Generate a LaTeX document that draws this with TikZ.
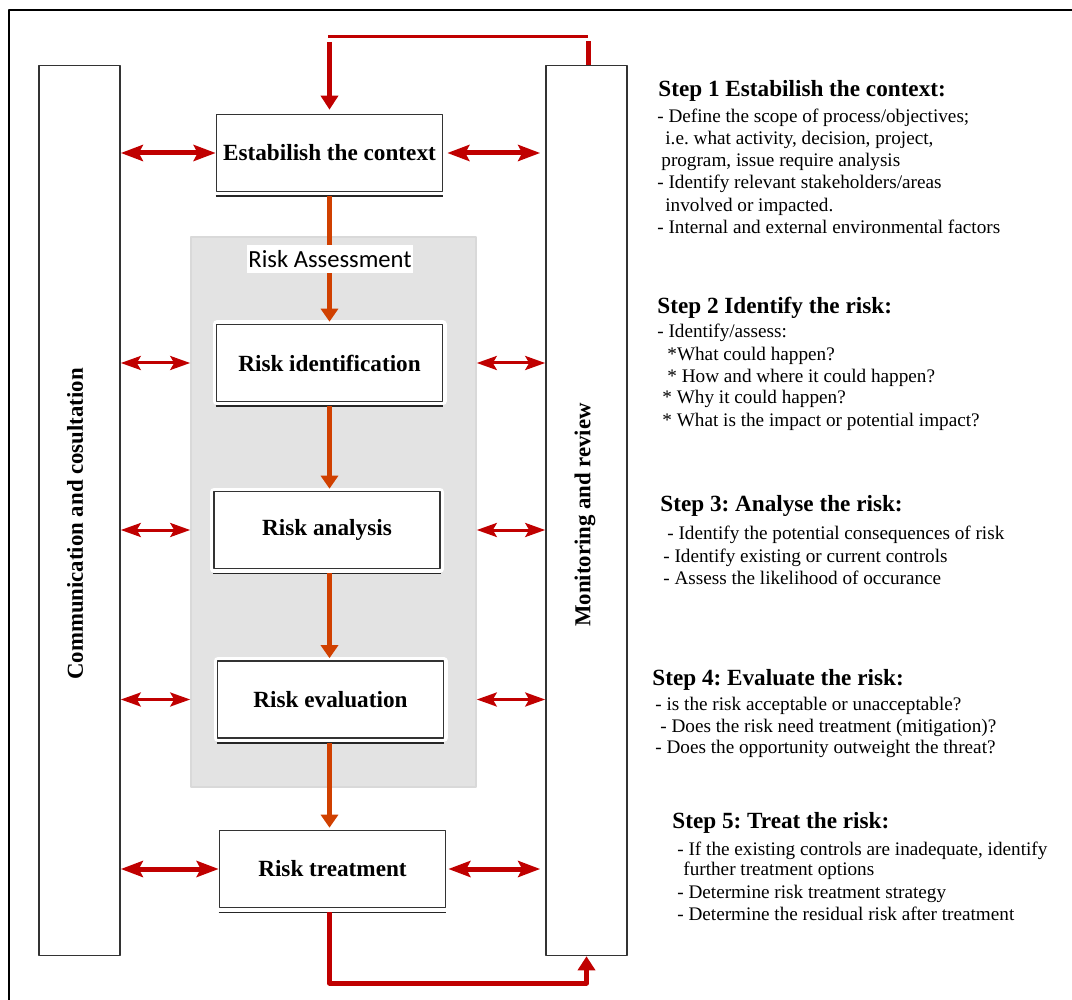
\documentclass[tikz,border=0pt]{standalone}
\usepackage{fontspec}
\setmainfont{Liberation Serif}
\newfontfamily\carlito{Carlito}
\usetikzlibrary{arrows.meta}
\definecolor{loopred}{RGB}{192,0,0}
\definecolor{flowred}{RGB}{208,64,0}
\definecolor{panelgray}{RGB}{227,227,227}
\frenchspacing
\begin{document}
\begin{tikzpicture}[x=.5pt, y=-.5pt, line join=round, font=\fontsize{9.6}{11}\selectfont,
  stepbox/.style={draw=black!80, line width=.8pt, fill=white, preaction={draw=white, line width=4pt},
    minimum width=113pt, minimum height=38.5pt, inner sep=0pt, font=\fontsize{11.6}{13}\selectfont\bfseries},
  sidebar/.style={draw=black!80, line width=.8pt, minimum width=40.5pt, minimum height=445pt, inner sep=0pt},
  sidelabel/.style={rotate=90, inner sep=0pt, font=\fontsize{11.4}{13}\selectfont\bfseries},
  head/.style={anchor=base west, inner sep=0pt, font=\fontsize{11.6}{13}\selectfont\bfseries},
  body/.style={anchor=base west, inner sep=0pt},
  bigdbl/.style={loopred, line width=2.5pt, {Stealth[length=11pt, width=8pt, inset=2pt]}-{Stealth[length=11pt, width=8pt, inset=2pt]}},
  smalldbl/.style={loopred, line width=1.5pt, {Stealth[length=10pt, width=7pt, inset=2pt]}-{Stealth[length=10pt, width=7pt, inset=2pt]}},
  flow/.style={flowred, line width=2.5pt, -{Triangle[length=6.5pt, width=8.5pt]}, shorten >=1pt},
  loopline/.style={loopred, line width=2.5pt}]
\useasboundingbox (0,0) rectangle (1072,1000);
\draw[line width=1pt] (9,1000) -- (9,10) -- (1072,10);
% side columns
\node[sidebar] (comm) at (79.5,510.5) {};
\node[sidelabel] (commlbl) at (75,524) {Communication and cosultation};
\node[sidebar] (mon) at (586.5,510.5) {};
\node[sidelabel] (monlbl) at (585,515) {Monitoring and review};
% assessment panel
\node[draw=black!15, fill=panelgray, line width=.8pt, minimum width=142.5pt, minimum height=275pt, inner sep=0pt] (ra) at (333.5,512) {};
% process boxes
\node[stepbox] (ctx) at (329.5,153) {Estabilish the context};
\node[stepbox] (ident) at (329.5,363) {Risk identification};
\node[stepbox] (anal) at (327,530) {Risk analysis};
\node[stepbox] (eval) at (330.5,699.5) {Risk evaluation};
\node[stepbox] (treat) at (332.5,869) {Risk treatment};
\foreach \b in {ctx,ident,anal,eval,treat}
  \draw[line width=.8pt, black!85] ([yshift=-2pt]\b.south west) -- ([yshift=-2pt]\b.south east);
% flow down
\draw[flow] ([yshift=-2pt]ctx.south) -- (ctx.south |- ident.north);
\draw[flow] ([yshift=-2pt]ident.south) -- (ident.south |- anal.north);
\draw[flow] ([yshift=-2pt]ident.south |- anal.south) -- (ident.south |- eval.north);
\draw[flow] ([yshift=-2pt]ident.south |- eval.south) -- (ident.south |- treat.north);
\node[fill=white, minimum width=83pt, minimum height=14pt, inner sep=0pt, font=\carlito\fontsize{12.3}{14}\selectfont] (ralbl) at (330,259) {Risk Assessment};
% links to the side columns
\draw[bigdbl] (comm.east |- ctx) -- (ctx.west);
\draw[bigdbl, shorten <=2pt, shorten >=2.5pt] (ctx.east) -- (mon.west |- ctx);
\foreach \b in {ident,anal,eval}{
  \draw[smalldbl] (comm.east |- \b) -- (ra.west |- \b);
  \draw[smalldbl] (ra.east |- \b) -- (mon.west |- \b);
}
\draw[bigdbl] (comm.east |- treat) -- (treat.west);
\draw[bigdbl, shorten <=1pt, shorten >=2.5pt] (treat.east) -- (mon.west |- treat);
% feedback loops
\coordinate (topL) at (328,37);
\coordinate (topR) at (588,37);
\draw[loopred, line width=1.5pt] (topL) -- (topR);
\draw[loopline] (mon.north -| topR) -- ++(0,-24);
\draw[loopline, -{Triangle[length=7pt, width=8.5pt]}, shorten >=2pt] ([yshift=-2.5pt]topL -| ctx.north) -- (ctx.north);
\draw[loopline, -{Triangle[length=7pt, width=8.5pt]}] ([yshift=-2pt]ident.south |- treat.south) -- (ident.south |- 0,983) -| (mon.south);
% step notes
\node[head] (h1) at (658,97) {Step 1 Estabilish the context:};
\node[head] (h2) at (657,314) {Step 2 Identify the risk:};
\node[head] (h3) at (660,511) {Step 3: Analyse the risk:};
\node[head] (h4) at (652,685) {Step 4: Evaluate the risk:};
\node[head] (h5) at (672,828) {Step 5: Treat the risk:};
\foreach \x/\y/\t [count=\i] in {
  657/123/{- Define the scope of process/objectives;},
  665/145/{i.e. what activity, decision, project,},
  661/167/{program, issue require analysis},
  657/189/{- Identify relevant stakeholders/areas},
  665/212/{involved or impacted.},
  657/234/{- Internal and external environmental factors},
  657/338/{- Identify/assess:},
  667/361/{*What could happen?},
  667/383/{* How and where it could happen?},
  662/404/{* Why it could happen?},
  662/427/{* What is the impact or potential impact?},
  667/539/{- Identify the potential consequences of risk},
  663/562/{- Identify existing or current controls},
  663/584/{- Assess the likelihood of occurance},
  655/710/{- is the risk acceptable or unacceptable?},
  660/732/{- Does the risk need treatment (mitigation)?},
  655/753/{- Does the opportunity outweight the threat?},
  677/855/{- If the existing controls are inadequate, identify},
  683/875/{further treatment options},
  677/898/{- Determine risk treatment strategy},
  677/920/{- Determine the residual risk after treatment}}
  \node[body] (note\i) at (\x,\y) {\t};
\end{tikzpicture}
\end{document}
